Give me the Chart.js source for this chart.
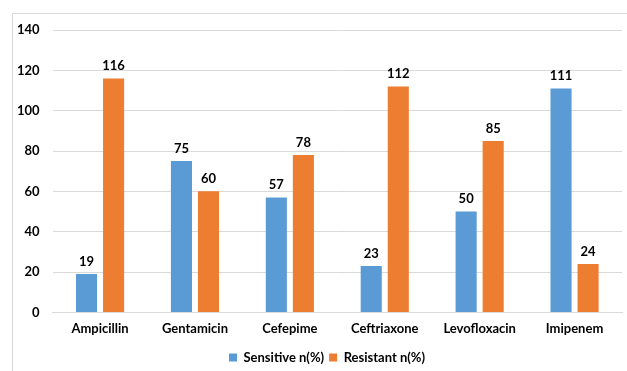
<!DOCTYPE html>
<html>
<head>
<meta charset="utf-8">
<script src="https://cdn.jsdelivr.net/npm/chart.js@4/dist/chart.umd.min.js"></script>
<style>
  html, body { margin: 0; padding: 0; background: #fff; }
  body { width: 627px; height: 371px; position: relative; overflow: hidden; }
  #frame { position: absolute; left: 12px; top: 13px; width: 640px; height: 400px; border: 1px solid #d9d9d9; box-sizing: border-box; }
  #wrap { position: absolute; left: 0; top: 0; width: 627px; height: 371px; }
</style>
</head>
<body>
<div id="frame"></div>
<div id="wrap"><canvas id="chart" width="627" height="371"></canvas></div>
<script>
const categories = ["Ampicillin", "Gentamicin", "Cefepime", "Ceftriaxone", "Levofloxacin", "Imipenem"];
const sensitive = [19, 75, 57, 23, 50, 111];
const resistant = [116, 60, 78, 112, 85, 24];
const seriesNames = ["Sensitive n(%)", "Resistant n(%)"];
const yTicks = [0, 20, 40, 60, 80, 100, 120, 140];

const FONT = "Lato, 'Liberation Sans', sans-serif";

// Value labels above each bar
const valueLabels = {
  id: "valueLabels",
  afterDatasetsDraw(chart) {
    const ctx = chart.ctx;
    ctx.save();
    ctx.font = "bold 13px " + FONT;
    ctx.fillStyle = "#000";
    ctx.textAlign = "center";
    ctx.textBaseline = "bottom";
    chart.data.datasets.forEach((ds, i) => {
      chart.getDatasetMeta(i).data.forEach((bar, j) => {
        ctx.fillText(String(ds.data[j]), bar.x, bar.y - 6);
      });
    });
    ctx.restore();
  }
};

// Centre the legend under the framed area rather than the whole canvas
const legendOffset = {
  id: "legendOffset",
  afterLayout(chart) {
    const lg = chart.legend;
    if (lg) { lg.left += 14; lg.right += 14; }
  }
};

new Chart(document.getElementById("chart"), {
  type: "bar",
  data: {
    labels: categories,
    datasets: [
      { label: seriesNames[0], data: sensitive, backgroundColor: "#5B9BD5" },
      { label: seriesNames[1], data: resistant, backgroundColor: "#ED7D31" }
    ]
  },
  options: {
    responsive: false,
    animation: false,
    devicePixelRatio: 1,
    layout: { padding: { left: 4, right: 5, top: 30, bottom: -3 } },
    datasets: { bar: { categoryPercentage: 0.57, barPercentage: 0.78 } },
    scales: {
      x: {
        grid: { display: false, drawTicks: false },
        border: { display: true, color: "#d9d9d9" },
        ticks: { color: "#000", font: { family: FONT, size: 13, weight: "bold" }, padding: 9 }
      },
      y: {
        min: 0, max: 140,
        afterBuildTicks(axis) { axis.ticks = yTicks.map(v => ({ value: v })); },
        grid: { color: "#d9d9d9", drawTicks: false },
        border: { display: false },
        ticks: { color: "#000", font: { family: FONT, size: 13, weight: "bold" }, padding: 13 }
      }
    },
    plugins: {
      legend: {
        position: "bottom",
        labels: { color: "#000", font: { family: FONT, size: 13, weight: "bold" }, boxWidth: 8, boxHeight: 8, padding: 5 }
      },
      tooltip: { enabled: false }
    }
  },
  plugins: [valueLabels, legendOffset]
});
</script>
</body>
</html>
